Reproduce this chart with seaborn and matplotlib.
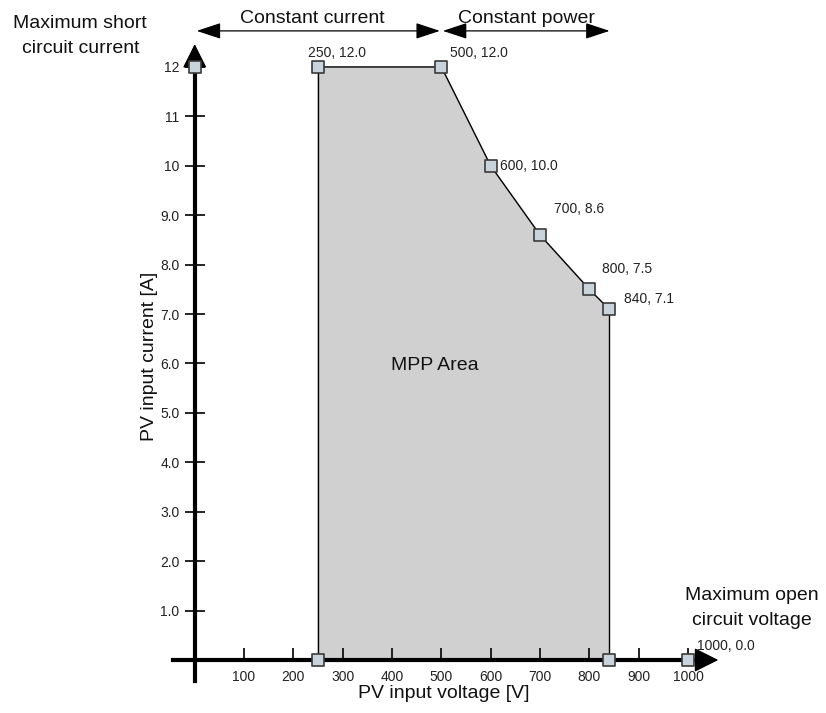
import matplotlib
matplotlib.use("Agg")
import matplotlib.pyplot as plt
import seaborn as sns
import pandas as pd

# ---- data ----
voltage = [250, 250, 500, 600, 700, 800, 840, 840]
current = [0.0, 12.0, 12.0, 10.0, 8.6, 7.5, 7.1, 0.0]
extra_voltage = [0, 1000]
extra_current = [12.0, 0.0]
label_voltage = [250, 500, 600, 700, 800, 840, 1000]
label_current = [12.0, 12.0, 10.0, 8.6, 7.5, 7.1, 0.0]
label_text = ["250, 12.0", "500, 12.0", "600, 10.0", "700, 8.6", "800, 7.5", "840, 7.1", "1000, 0.0"]
x_ticks = [100, 200, 300, 400, 500, 600, 700, 800, 900, 1000]
y_ticks = [1, 2, 3, 4, 5, 6, 7, 8, 9, 10, 11, 12]
y_tick_labels = ["1.0", "2.0", "3.0", "4.0", "5.0", "6.0", "7.0", "8.0", "9.0", "10", "11", "12"]

sns.set_theme(style="white")
plt.rcParams["font.family"] = ["Liberation Sans", "DejaVu Sans"]

fig = plt.figure(figsize=(8.26, 7.13), dpi=100)
ax = fig.add_axes([0, 0, 1, 1])
ax.set_xlim(-394.7, 1279.7)
ax.set_ylim(-1.0725, 13.355)
ax.set_axisbelow(False)

df = pd.DataFrame({"v": voltage, "i": current})
# MPP area
ax.fill(df["v"], df["i"], color="#d0d0d0", zorder=1)
sns.lineplot(data=df.iloc[1:7], x="v", y="i", sort=False, color="black", lw=1, ax=ax, zorder=2)
ax.plot([250, 250], [0, 12], color="black", lw=1, zorder=2)
ax.plot([840, 840], [0, 7.1], color="black", lw=1, zorder=2)

# axes as spines at data zero
for s in ["top", "right"]:
    ax.spines[s].set_visible(False)
ax.spines["left"].set_position(("data", 0))
ax.spines["bottom"].set_position(("data", 0))
ax.spines["left"].set_bounds(-0.43, 12.3)
ax.spines["bottom"].set_bounds(-44, 1040)
for s in ["left", "bottom"]:
    ax.spines[s].set_linewidth(3)
    ax.spines[s].set_color("black")
    ax.spines[s].set_zorder(3)

# arrowheads
ax.annotate("", xy=(0, 12.52), xytext=(0, 12.1),
            arrowprops=dict(arrowstyle="-|>,head_length=0.9,head_width=0.45", color="black", lw=1,
                            mutation_scale=17), zorder=4)
ax.annotate("", xy=(1067, 0), xytext=(1030, 0),
            arrowprops=dict(arrowstyle="-|>,head_length=0.9,head_width=0.45", color="black", lw=1,
                            mutation_scale=17), zorder=4)

ax.set_xticks(x_ticks)
ax.set_xticklabels([str(t) for t in x_ticks])
ax.set_yticks(y_ticks)
ax.set_yticklabels(y_tick_labels)
ax.tick_params(axis="x", direction="in", length=9, width=1.2, colors="black", labelcolor="#222222",
               labelsize=10, pad=7, bottom=True)
ax.tick_params(axis="y", direction="inout", length=14, width=1.2, colors="black", labelcolor="#222222",
               labelsize=10, pad=4, left=True)
ax.xaxis.set_zorder(3.5)
ax.yaxis.set_zorder(3.5)

# markers
mk = pd.DataFrame({"v": voltage[:-1] + [840] + extra_voltage,
                   "i": current[:-1] + [0.0] + extra_current})
sns.scatterplot(data=mk, x="v", y="i", marker="s", s=75, color="#c8d4dc", edgecolor="#3a3a3a",
                linewidth=1.2, ax=ax, zorder=5, legend=False)
ax.set_xlabel("")
ax.set_ylabel("")

# point labels
offsets = {"250, 12.0": (38, 0.28, "center"), "500, 12.0": (18, 0.28, "left"),
           "600, 10.0": (18, 0.0, "left"), "700, 8.6": (28, 0.52, "left"),
           "800, 7.5": (26, 0.42, "left"), "840, 7.1": (30, 0.2, "left"),
           "1000, 0.0": (18, 0.28, "left")}
for v, c, t in zip(label_voltage, label_current, label_text):
    dx, dy, ha = offsets[t]
    ax.text(v + dx, c + dy, t, fontsize=10, color="#222222", ha=ha, va="center", zorder=6)

# top arrows
ax.annotate("", xy=(4, 12.73), xytext=(497, 12.73),
            arrowprops=dict(arrowstyle="<|-|>,head_length=1.0,head_width=0.33", color="black", lw=0.9,
                            mutation_scale=15, shrinkA=0, shrinkB=0))
ax.annotate("", xy=(503, 12.73), xytext=(841, 12.73),
            arrowprops=dict(arrowstyle="<|-|>,head_length=1.0,head_width=0.33", color="black", lw=0.9,
                            mutation_scale=15, shrinkA=0, shrinkB=0))
ax.text(238, 12.98, "Constant current", fontsize=14, ha="center", va="center", color="#111111")
ax.text(672, 12.98, "Constant power", fontsize=14, ha="center", va="center", color="#111111")

ax.text(-232, 12.88, "Maximum short", fontsize=14, ha="center", va="center", color="#111111")
ax.text(-232, 12.38, "circuit current", fontsize=14, ha="center", va="center", color="#111111")
ax.text(1129, 1.295, "Maximum open", fontsize=14, ha="center", va="center", color="#111111")
ax.text(1129, 0.79, "circuit voltage", fontsize=14, ha="center", va="center", color="#111111")
ax.text(487, 5.95, "MPP Area", fontsize=14, ha="center", va="center", color="#111111")
ax.text(504, -0.67, "PV input voltage [V]", fontsize=14, ha="center", va="center", color="#111111")
ax.text(-92, 6.15, "PV input current [A]", fontsize=14, ha="center", va="center", rotation=90,
        color="#111111")

fig.savefig("out.png", dpi=100)
